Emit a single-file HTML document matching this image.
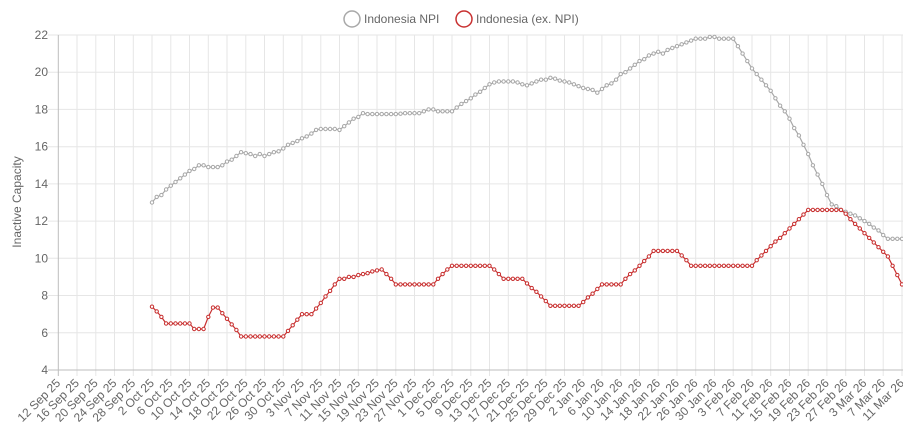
<!DOCTYPE html>
<html>
<head>
<meta charset="utf-8">
<style>
  html,body{margin:0;padding:0;background:#fff;}
  svg{display:block;}
  text{font-family:"Liberation Sans",Arial,sans-serif;font-size:12px;fill:#666;}
</style>
</head>
<body>
<svg width="903" height="434" viewBox="0 0 903 434" xmlns="http://www.w3.org/2000/svg">
  <defs>
    <marker id="mg" markerUnits="userSpaceOnUse" markerWidth="8" markerHeight="8" refX="4" refY="4" overflow="visible">
      <circle cx="4" cy="4" r="1.7" fill="#fff" stroke="#a8a8a8" stroke-width="1"/>
    </marker>
    <marker id="mr" markerUnits="userSpaceOnUse" markerWidth="8" markerHeight="8" refX="4" refY="4" overflow="visible">
      <circle cx="4" cy="4" r="1.7" fill="#fff" stroke="#c83030" stroke-width="1"/>
    </marker>
  </defs>

  <!-- Legend -->
  <circle cx="352" cy="19" r="8" fill="none" stroke="#a8a8a8" stroke-width="1.5"/>
  <text x="364" y="23">Indonesia NPI</text>
  <circle cx="464" cy="19" r="8" fill="none" stroke="#c83030" stroke-width="1.5"/>
  <text x="476" y="23">Indonesia (ex. NPI)</text>

  <!-- Horizontal grid -->
  <g stroke="#e6e6e6" stroke-width="1">
    <line x1="48" y1="35" x2="903" y2="35"/>
    <line x1="48" y1="72.2" x2="903" y2="72.2"/>
    <line x1="48" y1="109.4" x2="903" y2="109.4"/>
    <line x1="48" y1="146.7" x2="903" y2="146.7"/>
    <line x1="48" y1="183.9" x2="903" y2="183.9"/>
    <line x1="48" y1="221.1" x2="903" y2="221.1"/>
    <line x1="48" y1="258.3" x2="903" y2="258.3"/>
    <line x1="48" y1="295.5" x2="903" y2="295.5"/>
    <line x1="48" y1="332.8" x2="903" y2="332.8"/>
  </g>
  <!-- Vertical grid -->
  <g stroke="#e6e6e6" stroke-width="1">
    <line x1="77.0" y1="35" x2="77.0" y2="376"/>
    <line x1="95.8" y1="35" x2="95.8" y2="376"/>
    <line x1="114.5" y1="35" x2="114.5" y2="376"/>
    <line x1="133.3" y1="35" x2="133.3" y2="376"/>
    <line x1="152.0" y1="35" x2="152.0" y2="376"/>
    <line x1="170.8" y1="35" x2="170.8" y2="376"/>
    <line x1="189.5" y1="35" x2="189.5" y2="376"/>
    <line x1="208.3" y1="35" x2="208.3" y2="376"/>
    <line x1="227.0" y1="35" x2="227.0" y2="376"/>
    <line x1="245.8" y1="35" x2="245.8" y2="376"/>
    <line x1="264.5" y1="35" x2="264.5" y2="376"/>
    <line x1="283.3" y1="35" x2="283.3" y2="376"/>
    <line x1="302.0" y1="35" x2="302.0" y2="376"/>
    <line x1="320.8" y1="35" x2="320.8" y2="376"/>
    <line x1="339.5" y1="35" x2="339.5" y2="376"/>
    <line x1="358.3" y1="35" x2="358.3" y2="376"/>
    <line x1="377.0" y1="35" x2="377.0" y2="376"/>
    <line x1="395.8" y1="35" x2="395.8" y2="376"/>
    <line x1="414.5" y1="35" x2="414.5" y2="376"/>
    <line x1="433.3" y1="35" x2="433.3" y2="376"/>
    <line x1="452.0" y1="35" x2="452.0" y2="376"/>
    <line x1="470.8" y1="35" x2="470.8" y2="376"/>
    <line x1="489.5" y1="35" x2="489.5" y2="376"/>
    <line x1="508.3" y1="35" x2="508.3" y2="376"/>
    <line x1="527.0" y1="35" x2="527.0" y2="376"/>
    <line x1="545.8" y1="35" x2="545.8" y2="376"/>
    <line x1="564.5" y1="35" x2="564.5" y2="376"/>
    <line x1="583.2" y1="35" x2="583.2" y2="376"/>
    <line x1="601.9" y1="35" x2="601.9" y2="376"/>
    <line x1="620.7" y1="35" x2="620.7" y2="376"/>
    <line x1="639.5" y1="35" x2="639.5" y2="376"/>
    <line x1="658.2" y1="35" x2="658.2" y2="376"/>
    <line x1="677.0" y1="35" x2="677.0" y2="376"/>
    <line x1="695.7" y1="35" x2="695.7" y2="376"/>
    <line x1="714.5" y1="35" x2="714.5" y2="376"/>
    <line x1="733.2" y1="35" x2="733.2" y2="376"/>
    <line x1="752.0" y1="35" x2="752.0" y2="376"/>
    <line x1="770.7" y1="35" x2="770.7" y2="376"/>
    <line x1="789.5" y1="35" x2="789.5" y2="376"/>
    <line x1="808.2" y1="35" x2="808.2" y2="376"/>
    <line x1="826.9" y1="35" x2="826.9" y2="376"/>
    <line x1="845.7" y1="35" x2="845.7" y2="376"/>
    <line x1="864.5" y1="35" x2="864.5" y2="376"/>
    <line x1="883.2" y1="35" x2="883.2" y2="376"/>
    <line x1="902.0" y1="35" x2="902.0" y2="376"/>
  </g>
  <!-- Axes -->
  <line x1="58.3" y1="35" x2="58.3" y2="376" stroke="#bdbdbd" stroke-width="1"/>
  <line x1="48" y1="370" x2="903" y2="370" stroke="#bdbdbd" stroke-width="1"/>

  <!-- Y tick labels -->
  <g text-anchor="end">
    <text x="48" y="39">22</text>
    <text x="48" y="76.2">20</text>
    <text x="48" y="113.4">18</text>
    <text x="48" y="150.7">16</text>
    <text x="48" y="187.9">14</text>
    <text x="48" y="225.1">12</text>
    <text x="48" y="262.3">10</text>
    <text x="48" y="299.5">8</text>
    <text x="48" y="336.8">6</text>
    <text x="48" y="374">4</text>
  </g>

  <!-- Y axis title -->
  <text transform="translate(21 202) rotate(-90)" text-anchor="middle">Inactive Capacity</text>

  <!-- X tick labels -->
  <g text-anchor="end">
    <text transform="translate(58.3 381) rotate(-45)" dy="4">12 Sep 25</text>
    <text transform="translate(77.0 381) rotate(-45)" dy="4">16 Sep 25</text>
    <text transform="translate(95.8 381) rotate(-45)" dy="4">20 Sep 25</text>
    <text transform="translate(114.5 381) rotate(-45)" dy="4">24 Sep 25</text>
    <text transform="translate(133.3 381) rotate(-45)" dy="4">28 Sep 25</text>
    <text transform="translate(152.0 381) rotate(-45)" dy="4">2 Oct 25</text>
    <text transform="translate(170.8 381) rotate(-45)" dy="4">6 Oct 25</text>
    <text transform="translate(189.5 381) rotate(-45)" dy="4">10 Oct 25</text>
    <text transform="translate(208.3 381) rotate(-45)" dy="4">14 Oct 25</text>
    <text transform="translate(227.0 381) rotate(-45)" dy="4">18 Oct 25</text>
    <text transform="translate(245.8 381) rotate(-45)" dy="4">22 Oct 25</text>
    <text transform="translate(264.5 381) rotate(-45)" dy="4">26 Oct 25</text>
    <text transform="translate(283.3 381) rotate(-45)" dy="4">30 Oct 25</text>
    <text transform="translate(302.0 381) rotate(-45)" dy="4">3 Nov 25</text>
    <text transform="translate(320.8 381) rotate(-45)" dy="4">7 Nov 25</text>
    <text transform="translate(339.5 381) rotate(-45)" dy="4">11 Nov 25</text>
    <text transform="translate(358.3 381) rotate(-45)" dy="4">15 Nov 25</text>
    <text transform="translate(377.0 381) rotate(-45)" dy="4">19 Nov 25</text>
    <text transform="translate(395.8 381) rotate(-45)" dy="4">23 Nov 25</text>
    <text transform="translate(414.5 381) rotate(-45)" dy="4">27 Nov 25</text>
    <text transform="translate(433.3 381) rotate(-45)" dy="4">1 Dec 25</text>
    <text transform="translate(452.0 381) rotate(-45)" dy="4">5 Dec 25</text>
    <text transform="translate(470.8 381) rotate(-45)" dy="4">9 Dec 25</text>
    <text transform="translate(489.5 381) rotate(-45)" dy="4">13 Dec 25</text>
    <text transform="translate(508.3 381) rotate(-45)" dy="4">17 Dec 25</text>
    <text transform="translate(527.0 381) rotate(-45)" dy="4">21 Dec 25</text>
    <text transform="translate(545.8 381) rotate(-45)" dy="4">25 Dec 25</text>
    <text transform="translate(564.5 381) rotate(-45)" dy="4">29 Dec 25</text>
    <text transform="translate(583.2 381) rotate(-45)" dy="4">2 Jan 26</text>
    <text transform="translate(601.9 381) rotate(-45)" dy="4">6 Jan 26</text>
    <text transform="translate(620.7 381) rotate(-45)" dy="4">10 Jan 26</text>
    <text transform="translate(639.5 381) rotate(-45)" dy="4">14 Jan 26</text>
    <text transform="translate(658.2 381) rotate(-45)" dy="4">18 Jan 26</text>
    <text transform="translate(677.0 381) rotate(-45)" dy="4">22 Jan 26</text>
    <text transform="translate(695.7 381) rotate(-45)" dy="4">26 Jan 26</text>
    <text transform="translate(714.5 381) rotate(-45)" dy="4">30 Jan 26</text>
    <text transform="translate(733.2 381) rotate(-45)" dy="4">3 Feb 26</text>
    <text transform="translate(752.0 381) rotate(-45)" dy="4">7 Feb 26</text>
    <text transform="translate(770.7 381) rotate(-45)" dy="4">11 Feb 26</text>
    <text transform="translate(789.5 381) rotate(-45)" dy="4">15 Feb 26</text>
    <text transform="translate(808.2 381) rotate(-45)" dy="4">19 Feb 26</text>
    <text transform="translate(826.9 381) rotate(-45)" dy="4">23 Feb 26</text>
    <text transform="translate(845.7 381) rotate(-45)" dy="4">27 Feb 26</text>
    <text transform="translate(864.5 381) rotate(-45)" dy="4">3 Mar 26</text>
    <text transform="translate(883.2 381) rotate(-45)" dy="4">7 Mar 26</text>
    <text transform="translate(902.0 381) rotate(-45)" dy="4">11 Mar 26</text>
  </g>

  <!-- Indonesia NPI -->
  <polyline fill="none" stroke="#a8a8a8" stroke-width="1.2" stroke-linejoin="round"
    marker-start="url(#mg)" marker-mid="url(#mg)" marker-end="url(#mg)"
    points="152.0,202.5 156.7,196.9 161.4,195.1 166.1,189.5 170.8,185.7 175.5,182.0 180.2,178.3 184.9,174.6 189.5,170.9 194.2,169.0 198.9,165.3 203.6,165.3 208.3,167.1 213.0,167.1 217.7,167.1 222.3,165.3 227.0,161.6 231.7,159.7 236.4,156.0 241.1,152.2 245.8,153.2 250.5,154.1 255.2,156.0 259.8,154.1 264.5,156.0 269.2,154.1 273.9,152.2 278.6,151.3 283.3,148.5 288.0,144.8 292.7,142.9 297.3,141.1 302.0,138.3 306.7,136.4 311.4,133.6 316.1,129.9 320.8,129.0 325.5,129.0 330.1,129.0 334.8,129.0 339.5,129.9 344.2,126.2 348.9,122.5 353.6,118.7 358.3,116.9 363.0,113.2 367.6,114.1 372.3,114.1 377.0,114.1 381.7,114.1 386.4,114.1 391.1,114.1 395.8,114.1 400.5,113.7 405.1,113.2 409.8,113.2 414.5,113.2 419.2,113.2 423.9,111.3 428.6,109.4 433.3,109.4 438.0,111.3 442.6,111.3 447.3,111.3 452.0,111.3 456.7,107.6 461.4,103.9 466.1,101.1 470.8,98.3 475.4,94.6 480.1,91.8 484.8,88.0 489.5,84.3 494.2,82.5 498.9,81.5 503.6,81.5 508.3,81.5 512.9,81.5 517.6,82.5 522.3,84.3 527.0,85.3 531.7,83.4 536.4,81.5 541.1,79.7 545.8,79.7 550.4,77.8 555.1,78.7 559.8,80.6 564.5,81.5 569.2,82.5 573.9,84.3 578.6,86.2 583.2,88.0 587.9,89.0 592.6,89.9 597.3,92.7 602.0,89.0 606.7,85.3 611.4,83.4 616.1,79.7 620.7,74.1 625.4,72.2 630.1,68.5 634.8,64.8 639.5,61.1 644.2,59.2 648.9,55.5 653.6,53.6 658.2,51.8 662.9,53.6 667.6,49.9 672.3,48.0 677.0,46.2 681.7,44.3 686.4,42.4 691.1,40.6 695.7,38.7 700.4,38.7 705.1,38.7 709.8,36.9 714.5,36.9 719.2,38.7 723.9,38.7 728.5,38.7 733.2,38.7 737.9,46.2 742.6,53.6 747.3,61.1 752.0,68.5 756.7,74.1 761.4,79.7 766.0,85.3 770.7,90.8 775.4,98.3 780.1,105.7 784.8,111.3 789.5,118.7 794.2,128.1 798.9,135.5 803.5,144.8 808.2,154.1 812.9,165.3 817.6,174.6 822.3,183.9 827.0,195.1 831.7,204.4 836.3,206.2 841.0,209.9 845.7,211.8 850.4,213.7 855.1,215.5 859.8,218.3 864.5,221.1 869.2,223.9 873.8,227.6 878.5,230.4 883.2,235.1 887.9,238.8 892.6,238.8 897.3,238.8 902.0,238.8"/>

  <!-- Indonesia (ex. NPI) -->
  <polyline fill="none" stroke="#c83030" stroke-width="1.2" stroke-linejoin="round"
    marker-start="url(#mr)" marker-mid="url(#mr)" marker-end="url(#mr)"
    points="152.0,306.7 156.7,311.4 161.4,316.9 166.1,323.5 170.8,323.5 175.5,323.5 180.2,323.5 184.9,323.5 189.5,323.5 194.2,329.0 198.9,329.0 203.6,329.0 208.3,316.9 213.0,307.6 217.7,307.6 222.3,313.2 227.0,318.8 231.7,324.4 236.4,330.0 241.1,336.5 245.8,336.5 250.5,336.5 255.2,336.5 259.8,336.5 264.5,336.5 269.2,336.5 273.9,336.5 278.6,336.5 283.3,336.5 288.0,330.9 292.7,325.3 297.3,319.7 302.0,314.2 306.7,314.2 311.4,314.2 316.1,308.6 320.8,303.0 325.5,296.5 330.1,290.9 334.8,284.4 339.5,278.8 344.2,278.8 348.9,276.9 353.6,276.9 358.3,275.1 363.0,274.1 367.6,273.2 372.3,271.4 377.0,270.4 381.7,269.5 386.4,274.1 391.1,278.8 395.8,284.4 400.5,284.4 405.1,284.4 409.8,284.4 414.5,284.4 419.2,284.4 423.9,284.4 428.6,284.4 433.3,284.4 438.0,278.8 442.6,274.1 447.3,269.5 452.0,265.8 456.7,265.8 461.4,265.8 466.1,265.8 470.8,265.8 475.4,265.8 480.1,265.8 484.8,265.8 489.5,265.8 494.2,269.5 498.9,274.1 503.6,278.8 508.3,278.8 512.9,278.8 517.6,278.8 522.3,278.8 527.0,283.4 531.7,288.1 536.4,291.8 541.1,296.5 545.8,301.1 550.4,305.8 555.1,305.8 559.8,305.8 564.5,305.8 569.2,305.8 573.9,305.8 578.6,305.8 583.2,302.1 587.9,297.4 592.6,293.7 597.3,289.0 602.0,284.4 606.7,284.4 611.4,284.4 616.1,284.4 620.7,284.4 625.4,278.8 630.1,274.1 634.8,270.4 639.5,265.8 644.2,261.1 648.9,256.5 653.6,250.9 658.2,250.9 662.9,250.9 667.6,250.9 672.3,250.9 677.0,250.9 681.7,255.5 686.4,260.2 691.1,265.8 695.7,265.8 700.4,265.8 705.1,265.8 709.8,265.8 714.5,265.8 719.2,265.8 723.9,265.8 728.5,265.8 733.2,265.8 737.9,265.8 742.6,265.8 747.3,265.8 752.0,265.8 756.7,260.2 761.4,255.5 766.0,250.9 770.7,246.2 775.4,241.6 780.1,237.9 784.8,233.2 789.5,228.5 794.2,223.9 798.9,219.2 803.5,214.6 808.2,209.9 812.9,209.9 817.6,209.9 822.3,209.9 827.0,209.9 831.7,209.9 836.3,209.9 841.0,209.9 845.7,213.7 850.4,219.2 855.1,223.9 859.8,228.5 864.5,233.2 869.2,237.9 873.8,242.5 878.5,247.2 883.2,251.8 887.9,256.5 892.6,265.8 897.3,275.1 902.0,284.4"/>
</svg>
</body>
</html>
